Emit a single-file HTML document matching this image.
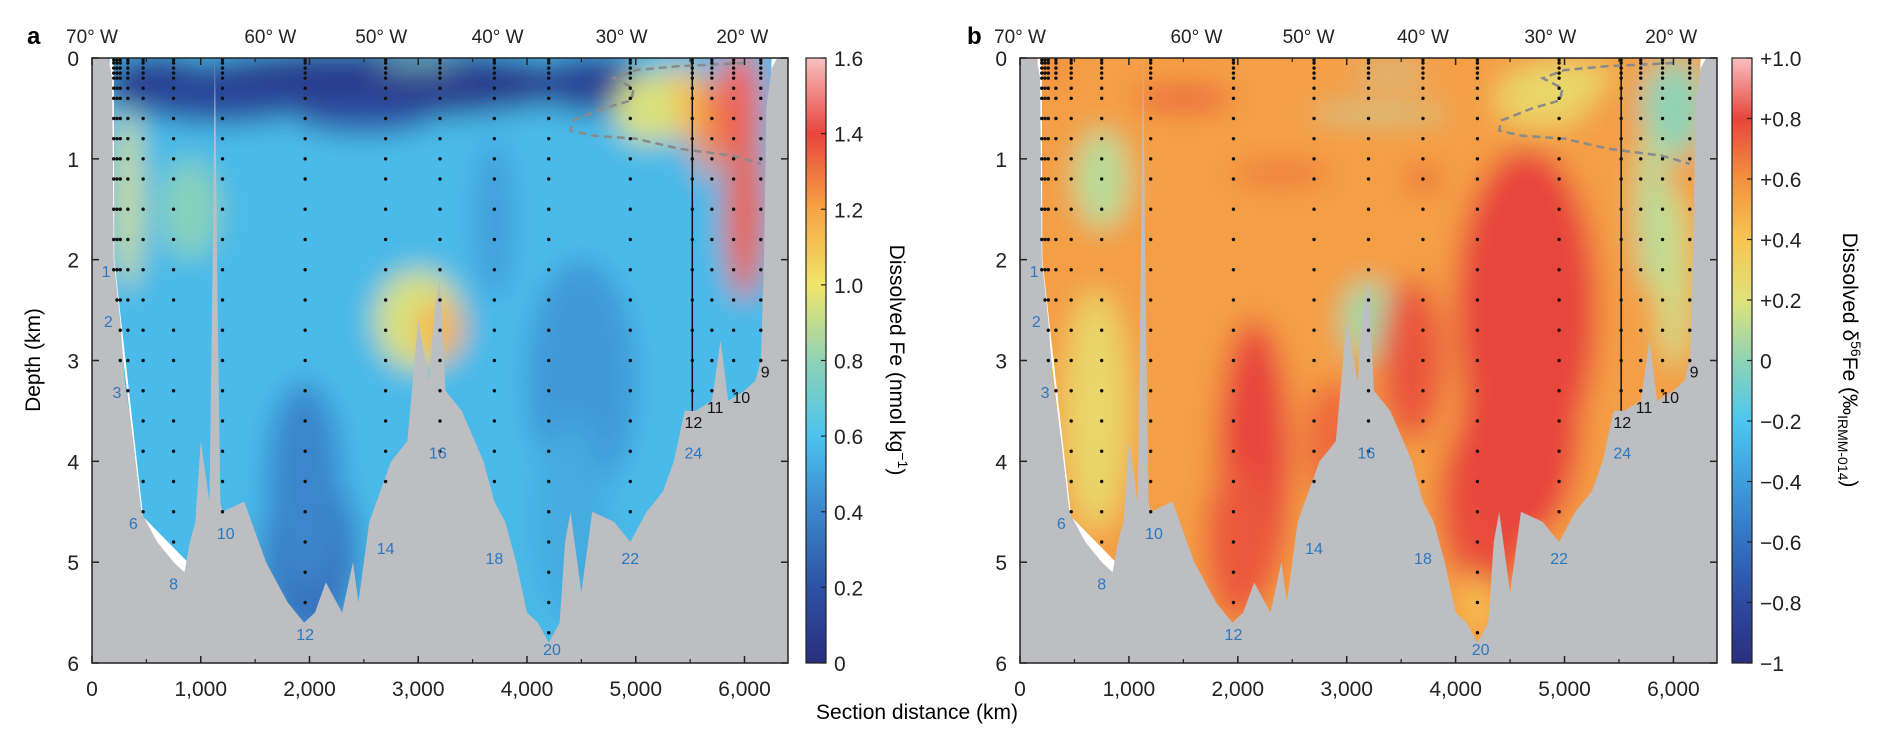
<!DOCTYPE html>
<html><head><meta charset="utf-8"><style>
html,body{margin:0;padding:0;background:#fff;}
svg{display:block;font-family:"Liberation Sans",Arial,sans-serif;}
</style></head><body>
<svg id="fig" width="1892" height="747" viewBox="0 0 1892 747" xmlns="http://www.w3.org/2000/svg">
<defs>
<filter id="blurA" x="-20%" y="-20%" width="140%" height="140%"><feGaussianBlur stdDeviation="14"/></filter>
<filter id="blurB" x="-20%" y="-20%" width="140%" height="140%"><feGaussianBlur stdDeviation="14"/></filter>
<clipPath id="clipA"><rect x="92" y="58" width="696" height="605"/></clipPath>
<clipPath id="clipB"><rect x="1020" y="58" width="697" height="605"/></clipPath>
<linearGradient id="cbA" x1="0" y1="1" x2="0" y2="0"></linearGradient>
<linearGradient id="cbB" x1="0" y1="1" x2="0" y2="0"></linearGradient>
</defs>
<text x="27" y="44" font-size="24" font-weight="bold">a</text>
<text x="967" y="44" font-size="24" font-weight="bold">b</text>
<text transform="translate(40,360) rotate(-90)" text-anchor="middle" font-size="21">Depth (km)</text>
<text x="917" y="719" text-anchor="middle" font-size="21">Section distance (km)</text>
<text transform="translate(890,360) rotate(90)" text-anchor="middle" font-size="21">Dissolved Fe (nmol kg<tspan dy="-8" font-size="14">−1</tspan><tspan dy="8">)</tspan></text>
<text transform="translate(1843,360) rotate(90)" text-anchor="middle" font-size="21">Dissolved δ<tspan dy="-8" font-size="14">56</tspan><tspan dy="8">Fe (‰</tspan><tspan dy="5" font-size="14">IRMM-014</tspan><tspan dy="-5">)</tspan></text>
</svg>
<script>
// ---- data ----
const xTicks = [0,1000,2000,3000,4000,5000,6000];
const xTickLabels = ["0","1,000","2,000","3,000","4,000","5,000","6,000"];
const yTicks = [0,1,2,3,4,5,6];
const lonLabels = ["70° W","60° W","50° W","40° W","30° W","20° W"];
const lonDistA = [0,1640,2660,3730,4870,5980];
const lonDistB = [0,1620,2650,3700,4870,5980];
const bathyDist = [0,150,185,200,260,300,380,450,600,750,850,900,950,1000,1080,1110,1130,1150,1180,1200,1400,1500,1600,1700,1800,1950,2050,2150,2200,2300,2400,2450,2550,2650,2750,2900,3000,3100,3150,3200,3250,3400,3600,3700,3800,3900,4000,4100,4200,4300,4350,4400,4500,4600,4800,4950,5100,5250,5350,5450,5550,5700,5780,5850,6000,6100,6150,6180,6200,6250,6300,6400];
const bathyDepth = [0,0,0.2,2.0,2.6,3.2,3.8,4.5,4.8,5.0,5.1,4.8,4.6,3.8,4.4,2.0,0,2.0,4.4,4.5,4.4,4.7,5.0,5.2,5.4,5.6,5.5,5.2,5.3,5.5,5.0,5.4,4.6,4.3,4.0,3.8,2.6,3.2,2.5,2.2,3.3,3.5,4.0,4.4,4.6,5.0,5.5,5.6,5.8,5.6,4.8,4.5,5.3,4.5,4.6,4.8,4.5,4.3,4.0,3.5,3.5,3.4,2.8,3.4,3.3,3.2,3.0,2.0,0.5,0.1,0,0];
const stationDist = [200,230,260,330,470,750,1200,1960,2700,3200,3700,4200,4950,5520,5700,5900,6150];
const stationBottom = [2.1,2.5,3.0,3.3,4.5,4.9,4.55,5.6,4.2,3.9,4.3,5.75,4.6,3.5,3.35,3.3,3.0];
const sampleDepths = [0.02,0.05,0.1,0.15,0.2,0.3,0.4,0.6,0.8,1.0,1.2,1.5,1.8,2.1,2.4,2.7,3.0,3.3,3.6,3.9,4.2,4.5,4.8,5.1,5.4,5.7];
const blueLabels = ["1","2","3","6","8","10","12","14","16","18","20","22","24"];
const blueLabelDist = [130,150,230,380,750,1230,1960,2700,3180,3700,4230,4950,5530];
const blueLabelDepth = [2.1,2.6,3.3,4.6,5.2,4.7,5.7,4.85,3.9,4.95,5.85,4.95,3.9];
const blackLabels = ["12","11","10","9"];
const blackLabelDist = [5530,5730,5970,6190];
const blackLabelDepth = [3.6,3.45,3.35,3.1];
const dashDist = [6000,5400,5000,4800,4980,4960,4700,4420,4400,4600,5000,5400,5900,6150];
const dashDepth = [0.05,0.08,0.12,0.2,0.3,0.42,0.5,0.62,0.72,0.77,0.8,0.9,0.97,1.05];
// colorbars
const cbAValues = [0,0.2,0.4,0.6,0.8,1.0,1.2,1.4,1.6];
const cbAColors = ["#2a2f7e","#2d52a5","#3b86cc","#4cc3ee","#8fd3b5","#f1e56a","#f6a443","#e8453c","#f7c0c0"];
const cbATickLabels = ["0","0.2","0.4","0.6","0.8","1.0","1.2","1.4","1.6"];
const cbBValues = [-1,-0.8,-0.6,-0.4,-0.2,0,0.2,0.4,0.6,0.8,1.0];
const cbBColors = ["#2a2f7e","#2d4aa0","#3472c0","#3f9ddc","#4cc7ef","#8fd3b5","#e0e27a","#f6c552","#f3913f","#e8453c","#f7c0c0"];
const cbBTickLabels = ["−1","−0.8","−0.6","−0.4","−0.2","0","+0.2","+0.4","+0.6","+0.8","+1.0"];
// concentration field blobs (panel a)
const fieldABase = 0.57;
const blobADist  = [2600,600,4600,1200,2000,3000,3200,5950,6000,5400,330,900,4500,1950,4400,5100,3700,5650,3000,2500];
const blobADepth = [0.25,0.25,0.25,0.45,4.9,2.6,2.7,0.5,1.5,0.45,1.4,1.5,3.2,4.2,4.6,0.5,1.6,0.7,0.05,0.6];
const blobAValue = [0.08,0.1,0.12,0.15,0.34,0.95,1.15,1.45,1.35,1.1,0.95,0.78,0.46,0.4,0.52,0.95,0.48,1.25,0.8,0.2];
const blobASpanX = [1900,500,500,800,450,400,220,220,180,300,110,280,500,350,350,300,180,120,400,600];
const blobASpanZ = [0.35,0.3,0.3,0.2,0.9,0.5,0.3,0.6,0.9,0.35,0.9,0.5,1.2,1.0,1.0,0.35,0.8,0.5,0.04,0.15];
// isotope field blobs (panel b)
const fieldBBase = 0.55;
const blobBDist  = [2150,4650,4300,3200,750,6000,6000,3300,1500,3400,2400,4800,700,3700,4200,300,4600,2000,5000,5800,2900,3600];
const blobBDepth = [4.0,2.5,4.4,2.6,1.2,0.5,2.2,0.55,0.4,0.15,1.15,0.4,3.5,1.2,5.4,0.1,3.6,4.8,0.2,1.5,3.8,3.0];
const blobBValue = [0.8,0.8,0.78,0.05,0.1,0.0,0.15,0.08,0.78,0.05,0.72,0.3,0.28,0.75,0.4,0.72,0.8,0.75,0.25,0.1,0.7,0.76];
const blobBSpanX = [330,650,450,250,250,300,150,650,450,350,450,450,300,150,120,150,550,300,450,150,300,300];
const blobBSpanZ = [1.4,1.6,0.9,0.4,0.5,0.5,0.9,0.06,0.1,0.05,0.08,0.3,1.2,0.1,0.3,0.06,1.2,0.8,0.15,0.8,0.6,0.8];

// ---- helpers ----
const NS = "http://www.w3.org/2000/svg";
const svg = document.getElementById("fig");
function el(tag, attrs, parent){
  const e = document.createElementNS(NS, tag);
  for (const k in attrs) e.setAttribute(k, attrs[k]);
  (parent||svg).appendChild(e);
  return e;
}
function interpColor(vals, cols, v){
  if (v <= vals[0]) return cols[0];
  for (let i=1;i<vals.length;i++){
    if (v <= vals[i]){
      const t=(v-vals[i-1])/(vals[i]-vals[i-1]);
      const a=parseInt(cols[i-1].slice(1),16), b=parseInt(cols[i].slice(1),16);
      const c=[16,8,0].map(s=>Math.round(((a>>s)&255)*(1-t)+((b>>s)&255)*t));
      return "rgb("+c.join(",")+")";
    }
  }
  return cols[cols.length-1];
}

function panel(p){
  const x0=p.left, x1=p.left+p.width, y0=58, y1=663;
  const X = d => x0 + d/6400*p.width;
  const Y = z => y0 + z/6*(y1-y0);
  const g = el("g", {"clip-path":"url(#"+p.clip+")"});
  
  
  el("rect",{x:x0,y:y0,width:p.width,height:y1-y0,fill:"#fff"},g);
  const fg = el("g",{filter:"url(#"+p.blur+")"},g);
  el("rect",{x:x0-60,y:y0-60,width:p.width+120,height:y1-y0+120,fill:interpColor(p.cbV,p.cbC,p.base)},fg);
  for (let i=0;i<p.bd.length;i++){
    const e = el("ellipse",{cx:X(p.bd[i]),cy:Y(p.bz[i]),rx:p.sx[i]/6400*p.width,ry:p.sz[i]/6*(y1-y0),fill:interpColor(p.cbV,p.cbC,p.bv[i])},fg);
    
    
  }
  el("polygon",{points:[[X(6250),Y(0)],[X(6330),Y(0)],[X(6290),Y(2.5)],[X(6150),Y(3.3)],[X(6170),Y(2.5)]].map(a=>a.join(",")).join(" "),fill:"#fff"},g);
  el("polygon",{points:[[X(160),Y(0)],[X(200),Y(0)],[X(205),Y(2)],[X(470),Y(4.55)],[X(880),Y(5.0)],[X(870),Y(5.15)],[X(470),Y(4.65)],[X(190),Y(2.1)]].map(a=>a.join(",")).join(" "),fill:"#fff"},g);
  let pts = bathyDist.map((d,i)=>X(d)+","+Y(bathyDepth[i]));
  pts.push(X(6400)+","+Y(6.1)); pts.push(X(0)+","+Y(6.1));
  const bathy = el("polygon",{points:pts.join(" "),fill:"#bdbec1"},g);
  
  
  const dash = el("polyline",{points:dashDist.map((d,i)=>X(d)+","+Y(dashDepth[i])).join(" "),fill:"none",stroke:"#8a8a8a","stroke-width":2.5,"stroke-dasharray":"8,5"},g);
  
  
  stationDist.forEach((d,i)=>{
    const sg = el("g",{},g);
    
    
    if (d===5520) el("line",{x1:X(d),y1:Y(0),x2:X(d),y2:Y(stationBottom[i]),stroke:"#111","stroke-width":1.5},sg);
    sampleDepths.forEach(z=>{
      if (z<=stationBottom[i]) el("circle",{cx:X(d),cy:Y(z),r:1.7,fill:"#111"},sg);
    });
  });
  const fr = el("rect",{x:x0,y:y0,width:p.width,height:y1-y0,fill:"none",stroke:"#222","stroke-width":1.5});
  
  
  blueLabels.forEach((t,i)=>{
    const tx = el("text",{x:X(blueLabelDist[i]),y:Y(blueLabelDepth[i])+7,"text-anchor":"middle","font-size":16,fill:"#2a78c0"});
    tx.textContent=t;
    
    
  });
  blackLabels.forEach((t,i)=>{
    const tx = el("text",{x:X(blackLabelDist[i]),y:Y(blackLabelDepth[i])+7,"text-anchor":"middle","font-size":16,fill:"#111"});
    tx.textContent=t;
    
    
  });
  xTicks.forEach((d,i)=>{
    el("line",{x1:X(d),y1:y1,x2:X(d),y2:y1-7,stroke:"#222","stroke-width":1.5});
    el("line",{x1:X(d),y1:y0,x2:X(d),y2:y0+7,stroke:"#222","stroke-width":1.5});
    const tx = el("text",{x:X(d),y:696,"text-anchor":"middle","font-size":21,fill:"#222"});
    tx.textContent=xTickLabels[i];
    
    
  });
  for (let d=500; d<6400; d+=1000){
    el("line",{x1:X(d),y1:y1,x2:X(d),y2:y1-4,stroke:"#222","stroke-width":1.2});
    el("line",{x1:X(d),y1:y0,x2:X(d),y2:y0+4,stroke:"#222","stroke-width":1.2});
  }
  yTicks.forEach(z=>{
    el("line",{x1:x0,y1:Y(z),x2:x0+7,y2:Y(z),stroke:"#222","stroke-width":1.5});
    el("line",{x1:x1,y1:Y(z),x2:x1-7,y2:Y(z),stroke:"#222","stroke-width":1.5});
    const tx = el("text",{x:x0-13,y:Y(z)+8,"text-anchor":"end","font-size":21,fill:"#222"});
    tx.textContent=String(z);
    
    
  });
  lonLabels.forEach((t,i)=>{
    const tx = el("text",{x:X(p.lon[i]),y:43,"text-anchor":"middle","font-size":19,fill:"#222"});
    tx.textContent=t;
    
    
  });
  const grad = document.getElementById(p.grad);
  const vmin=p.cbV[0], vmax=p.cbV[p.cbV.length-1];
  p.cbV.forEach((v,i)=>el("stop",{offset:((v-vmin)/(vmax-vmin)),"stop-color":p.cbC[i]},grad));
  const cbx=p.cbX, cbw=20;
  const cb = el("rect",{x:cbx,y:y0,width:cbw,height:y1-y0,fill:"url(#"+p.grad+")",stroke:"#222","stroke-width":1.2});
  
  
  p.cbV.forEach((v,i)=>{
    const yy = y1-(v-vmin)/(vmax-vmin)*(y1-y0);
    el("line",{x1:cbx+cbw-5,y1:yy,x2:cbx+cbw,y2:yy,stroke:"#222","stroke-width":1.2});
    const tx = el("text",{x:cbx+cbw+8,y:yy+8,"font-size":21,fill:"#222"});
    tx.textContent=p.cbL[i];
    
    
  });
}

panel({id:"panel-a",left:92,width:696,clip:"clipA",blur:"blurA",grad:"cbA",cbX:806,
  cbV:cbAValues,cbC:cbAColors,cbL:cbATickLabels,base:fieldABase,
  bd:blobADist,bz:blobADepth,bv:blobAValue,sx:blobASpanX,sz:blobASpanZ,lon:lonDistA});
panel({id:"panel-b",left:1020,width:697,clip:"clipB",blur:"blurB",grad:"cbB",cbX:1732,
  cbV:cbBValues,cbC:cbBColors,cbL:cbBTickLabels,base:fieldBBase,
  bd:blobBDist,bz:blobBDepth,bv:blobBValue,sx:blobBSpanX,sz:blobBSpanZ,lon:lonDistB});
</script>
</body></html>
